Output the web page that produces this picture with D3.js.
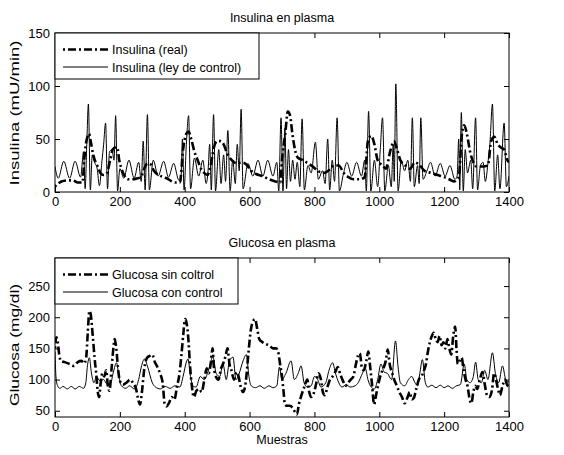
<!DOCTYPE html>
<html lang="es">
<head>
    <meta charset="UTF-8">
    <title>Insulina y glucosa en plasma</title>
    <script src="https://d3js.org/d3.v7.min.js"></script>
    <style>
        body { margin: 0; background: white; }
        text { font-family: Arial, "Liberation Sans", sans-serif; fill: black; }
    </style>
</head>
<body>
    <svg id="svg1" width="564" height="455" style="background: white"></svg>

    <script>
        // data ---------------------------------------------------------------------------
        const xTicks = [0, 200, 400, 600, 800, 1000, 1200, 1400];
        const insulinaTicks = [0, 50, 100, 150];
        const glucosaTicks = [50, 100, 150, 200, 250];

        // [muestra, valor]
        const insulinaReal = [[0,5],[10,8],[20,10],[40,11],[55,11],[70,9],[85,9],[90,30],[95,45],[100,52],[105,55],[110,48],
            [118,35],[125,28],[132,24],[140,18],[150,16],[160,18],[170,30],[178,40],[185,42],[192,42],[198,30],[205,22],[215,15],
            [225,12],[240,12],[255,13],[265,14],[275,22],[285,27],[295,26],[305,20],[320,16],[335,14],[350,12],[360,10],[370,9],
            [385,9],[395,40],[405,55],[412,57],[420,50],[430,38],[440,30],[450,22],[460,18],[470,16],[480,25],[490,42],[500,48],
            [510,48],[520,45],[530,37],[545,30],[560,27],[575,28],[590,26],[605,20],[620,17],[640,15],[660,12],[680,10],[695,9],
            [700,30],[710,55],[718,76],[725,72],[732,55],[740,40],[750,32],[765,30],[780,27],[795,24],[810,20],[830,18],[850,22],
            [860,25],[875,25],[890,18],[905,14],[920,12],[940,12],[955,14],[965,48],[975,53],[985,45],[995,30],[1010,25],[1020,22],
            [1035,40],[1045,48],[1055,40],[1065,30],[1080,25],[1095,22],[1110,28],[1125,25],[1140,20],[1160,18],[1180,16],
            [1200,14],[1215,12],[1230,10],[1245,14],[1255,55],[1262,63],[1270,55],[1280,38],[1290,28],[1300,24],[1320,24],
            [1335,25],[1345,48],[1355,52],[1365,45],[1375,42],[1385,40],[1395,30],[1400,28]];

        const insulinaControl = [[0,24],[10,13],[27,29],[45,13],[62,29],[79,14],[88,38],[93,3],[98,45],[103,83],[109,2],[115,35],
            [122,28],[130,22],[137,6],[145,30],[150,45],[156,65],[162,3],[168,38],[176,40],[182,30],[187,72],[193,1],[200,22],
            [212,13],[228,30],[244,13],[258,28],[266,10],[272,48],[278,2],[285,73],[291,2],[303,30],[318,15],[335,29],[350,14],
            [366,27],[380,12],[388,10],[393,50],[398,2],[405,45],[412,72],[418,3],[430,32],[443,15],[456,30],[466,8],[472,20],
            [477,45],[482,2],[489,73],[495,1],[505,40],[512,8],[520,35],[526,10],[533,58],[540,1],[548,30],[556,8],[562,45],
            [568,20],[574,78],[580,3],[595,27],[610,15],[626,30],[641,15],[656,30],[672,15],[684,28],[690,1],[697,70],[703,1],
            [709,60],[714,3],[720,40],[726,10],[733,30],[740,12],[747,28],[755,5],[762,69],[769,2],[780,25],[790,18],[803,47],
            [812,12],[825,20],[833,8],[841,50],[847,2],[855,30],[862,10],[870,70],[877,1],[890,18],[900,28],[915,15],[930,28],
            [945,15],[955,30],[960,1],[967,76],[974,1],[985,30],[995,5],[1003,40],[1010,70],[1017,1],[1028,25],[1037,5],
            [1043,45],[1046,10],[1051,102],[1058,1],[1068,30],[1078,20],[1088,30],[1096,10],[1102,70],[1108,5],[1118,25],
            [1123,8],[1128,70],[1135,12],[1147,20],[1158,28],[1172,15],[1188,27],[1203,15],[1218,25],[1233,12],[1240,15],
            [1245,50],[1248,2],[1253,75],[1259,1],[1265,40],[1272,18],[1282,30],[1288,3],[1297,70],[1303,2],[1312,25],[1320,28],
            [1327,10],[1336,30],[1341,45],[1349,83],[1356,1],[1365,35],[1372,3],[1385,65],[1392,5],[1400,15]];

        const glucosaSinControl = [[0,150],[4,168],[8,162],[13,140],[18,130],[30,128],[45,125],[58,122],[70,128],[82,130],
            [90,126],[96,135],[101,175],[106,210],[110,205],[114,185],[118,160],[122,135],[127,110],[132,80],[136,72],[141,95],
            [146,110],[152,105],[158,115],[163,90],[168,82],[174,115],[180,150],[184,165],[189,150],[194,120],[200,98],[210,92],
            [220,95],[232,100],[242,93],[250,85],[256,70],[262,60],[268,80],[276,120],[284,135],[292,138],[300,140],[308,128],
            [316,120],[324,110],[332,95],[338,62],[344,57],[352,63],[360,72],[368,68],[376,88],[384,110],[390,140],[396,175],
            [401,197],[406,190],[412,160],[416,125],[422,90],[428,72],[436,82],[445,85],[452,80],[460,98],[468,118],[474,110],
            [480,125],[486,150],[490,120],[496,105],[504,100],[512,118],[518,125],[526,138],[532,150],[538,125],[544,115],
            [552,100],[560,112],[566,105],[572,90],[580,80],[588,95],[596,140],[604,180],[612,195],[617,197],[624,180],[630,165],
            [640,160],[650,157],[660,155],[672,150],[682,150],[688,145],[694,125],[700,105],[705,80],[709,60],[716,58],[724,58],
            [732,55],[740,48],[746,44],[752,60],[760,75],[770,90],[778,100],[784,80],[790,72],[798,78],[806,95],[812,110],
            [820,100],[826,80],[832,75],[840,88],[848,100],[856,105],[864,112],[872,120],[880,108],[888,98],[896,90],[904,95],
            [912,100],[920,105],[928,125],[934,138],[940,142],[946,120],[952,115],[960,130],[966,145],[972,120],[978,90],[984,60],
            [990,75],[998,95],[1006,110],[1014,120],[1020,130],[1026,148],[1032,125],[1040,110],[1046,100],[1054,90],[1062,80],
            [1070,72],[1078,62],[1086,70],[1094,80],[1100,68],[1106,70],[1114,85],[1122,100],[1130,105],[1138,115],[1144,125],
            [1150,145],[1156,160],[1162,170],[1168,175],[1174,165],[1180,160],[1186,170],[1192,155],[1198,160],[1204,150],
            [1210,165],[1216,150],[1222,140],[1228,170],[1234,185],[1238,150],[1242,125],[1248,130],[1254,135],[1260,115],
            [1266,100],[1272,90],[1278,70],[1284,62],[1290,80],[1296,90],[1302,85],[1310,100],[1318,112],[1326,90],[1332,75],
            [1340,72],[1348,85],[1354,110],[1360,100],[1366,85],[1372,75],[1380,90],[1388,100],[1394,92],[1400,88]];

        const glucosaControl = [[0,145],[3,105],[8,90],[15,86],[25,89],[38,85],[50,89],[62,85],[75,89],[88,86],[95,95],
            [100,122],[106,135],[112,112],[120,95],[128,105],[138,98],[150,100],[160,93],[172,95],[180,112],[190,127],[197,105],
            [205,90],[218,86],[230,90],[245,85],[258,100],[266,120],[276,133],[286,120],[300,95],[310,88],[325,85],[340,89],
            [355,86],[370,90],[385,88],[395,105],[405,128],[410,133],[418,105],[425,90],[435,88],[448,105],[460,100],[475,118],
            [487,137],[497,110],[508,105],[518,125],[528,100],[538,130],[549,136],[558,100],[568,110],[580,130],[590,140],
            [598,105],[605,90],[618,87],[632,90],[645,86],[660,90],[672,87],[684,90],[692,120],[700,100],[712,110],[728,130],
            [738,100],[750,110],[759,122],[768,95],[778,88],[790,90],[800,105],[810,100],[820,88],[835,95],[845,115],[856,127],
            [865,110],[875,95],[885,88],[898,92],[910,88],[925,90],[935,95],[948,110],[957,118],[965,100],[975,88],[985,85],
            [995,100],[1005,125],[1015,112],[1025,110],[1038,100],[1050,162],[1058,120],[1065,95],[1078,90],[1090,100],
            [1100,105],[1110,95],[1118,90],[1125,110],[1133,132],[1142,95],[1150,88],[1162,91],[1175,87],[1188,91],[1200,87],
            [1212,90],[1225,86],[1238,90],[1250,92],[1262,125],[1270,100],[1280,95],[1290,105],[1297,128],[1305,100],
            [1315,95],[1325,115],[1335,100],[1349,143],[1358,110],[1368,95],[1380,122],[1390,100],[1400,96]];

        // chart setup ---------------------------------------------------------------------
        const svg = d3.select("svg#svg1");
        const plotLeft = 55, plotRight = 509;
        const dashDot = "2,3,8,3";

        const xScale = d3.scaleLinear().domain([0, 1400]).range([plotLeft, plotRight]);

        function drawPanel(p) {
            const top = p.top, bottom = p.top + 159;
            const yScale = d3.scaleLinear().domain(p.domain).range([bottom, top]);
            const g = svg.append("g").attr("id", p.id);

            g.append("clipPath").attr("id", p.id + "-clip")
                .append("rect")
                .attr("x", plotLeft).attr("y", top)
                .attr("width", plotRight - plotLeft).attr("height", bottom - top);

            // ticks pointing inward on all four sides
            const axB = g.append("g").attr("transform", `translate(0, ${bottom})`)
                .call(d3.axisBottom(xScale).tickValues(xTicks).tickFormat(d3.format("d"))
                    .tickSizeInner(-5).tickSizeOuter(0).tickPadding(5));
            const axT = g.append("g").attr("transform", `translate(0, ${top})`)
                .call(d3.axisTop(xScale).tickValues(xTicks).tickSizeInner(-5).tickSizeOuter(0).tickFormat(""));
            const axL = g.append("g").attr("transform", `translate(${plotLeft}, 0)`)
                .call(d3.axisLeft(yScale).tickValues(p.ticks).tickFormat(d3.format("d"))
                    .tickSizeInner(-5).tickSizeOuter(0).tickPadding(5));
            const axR = g.append("g").attr("transform", `translate(${plotRight}, 0)`)
                .call(d3.axisRight(yScale).tickValues(p.ticks).tickSizeInner(-5).tickSizeOuter(0).tickFormat(""));
            [axB, axT, axL, axR].forEach(a => {
                a.select(".domain").remove();
                a.selectAll("line").attr("stroke", "black");
                a.selectAll("text").attr("font-size", 13).attr("font-family", null);
            });

            // series
            const line = d3.line()
                .x(d => xScale(d[0]))
                .y(d => yScale(d[1]))
                .curve(d3.curveMonotoneX);
            const lines = g.append("g").attr("clip-path", `url(#${p.id}-clip)`);
            lines.append("path").datum(p.control)
                .attr("d", line).attr("fill", "none")
                .attr("stroke", "black").attr("stroke-width", 1);
            lines.append("path").datum(p.real)
                .attr("d", line).attr("fill", "none")
                .attr("stroke", "black").attr("stroke-width", 2.6)
                .attr("stroke-dasharray", dashDot);

            // box
            g.append("rect")
                .attr("x", plotLeft).attr("y", top)
                .attr("width", plotRight - plotLeft).attr("height", bottom - top)
                .attr("fill", "none").attr("stroke", "black").attr("stroke-width", 1);

            // title + y label (the label is drawn stretched along its length, as in the picture)
            g.append("text").text(p.title)
                .attr("x", (plotLeft + plotRight) / 2).attr("y", top - 11)
                .attr("text-anchor", "middle").attr("font-size", 12.5);
            g.append("text").text(p.yLabel)
                .attr("transform", `translate(19, ${p.yLabelCenter}) rotate(-90)`)
                .attr("text-anchor", "middle").attr("font-size", 12.5)
                .attr("textLength", p.yLabelLength).attr("lengthAdjust", "spacingAndGlyphs");

            // legend
            const lg = g.append("g");
            lg.append("rect")
                .attr("x", plotLeft).attr("y", top)
                .attr("width", p.legendWidth).attr("height", 46)
                .attr("fill", "white").attr("stroke", "black").attr("stroke-width", 1);
            p.legend.forEach((name, i) => {
                const ly = top + 16.5 + i * 17.5;
                lg.append("line")
                    .attr("x1", 63).attr("x2", 108).attr("y1", ly).attr("y2", ly)
                    .attr("stroke", "black")
                    .attr("stroke-width", i === 0 ? 2.6 : 1)
                    .attr("stroke-dasharray", i === 0 ? dashDot : null);
                lg.append("text").text(name)
                    .attr("x", 112).attr("y", ly + 4.5)
                    .attr("font-size", 12.5);
            });
        }

        drawPanel({
            id: "insulina", top: 33, domain: [0, 150], ticks: insulinaTicks,
            title: "Insulina en plasma", yLabel: "Insulina  (mU/min)", yLabelCenter: 113, yLabelLength: 145,
            real: insulinaReal, control: insulinaControl,
            legend: ["Insulina (real)", "Insulina (ley de control)"], legendWidth: 204
        });

        drawPanel({
            id: "glucosa", top: 258, domain: [40, 295], ticks: glucosaTicks,
            title: "Glucosa en plasma", yLabel: "Glucosa  (mg/dl)", yLabelCenter: 345, yLabelLength: 122,
            real: glucosaSinControl, control: glucosaControl,
            legend: ["Glucosa sin coltrol", "Glucosa con control"], legendWidth: 183
        });

        svg.append("text").text("Muestras")
            .attr("x", (plotLeft + plotRight) / 2).attr("y", 444)
            .attr("text-anchor", "middle").attr("font-size", 12.5);
    </script>
</body>
</html>
